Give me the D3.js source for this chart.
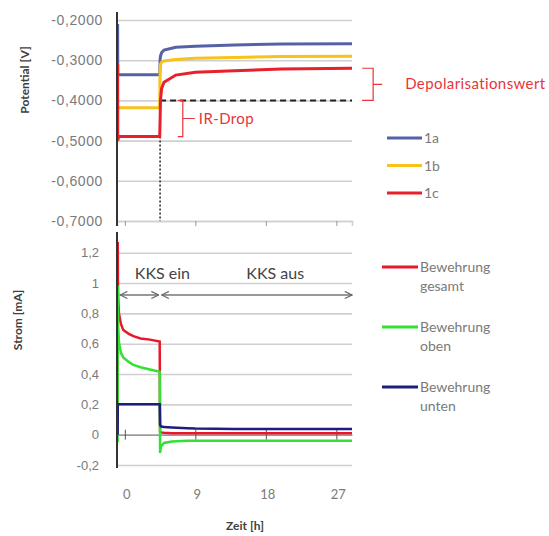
<!DOCTYPE html>
<html>
<head>
<meta charset="utf-8">
<script src="https://cdn.jsdelivr.net/npm/d3@7"></script>
<style>
  body { margin: 0; background: #fff; }
  svg { font-family: Lato, "Open Sans", sans-serif; }
</style>
</head>
<body>
<svg id="chart" width="549" height="536"></svg>
<script>
// Potential chart (top), time in h
const timeTop = [-0.92, -0.9, -0.85, -0.8, 4.45, 4.5, 4.55, 4.7, 5.0, 6.5, 9, 14, 20, 29];
const pot1a = [-0.21, -0.336, -0.336, -0.336, -0.336, -0.30, -0.29, -0.281, -0.275, -0.268, -0.265, -0.262, -0.26, -0.259];
const pot1b = [-0.42, -0.418, -0.418, -0.418, -0.418, -0.32, -0.31, -0.305, -0.302, -0.298, -0.295, -0.293, -0.291, -0.29];
const pot1c = [-0.31, -0.50, -0.495, -0.49, -0.49, -0.45, -0.40, -0.37, -0.355, -0.337, -0.33, -0.326, -0.322, -0.32];
const potTicks = [-0.7, -0.6, -0.5, -0.4, -0.3, -0.2];
const potNames = ["1a", "1b", "1c"];

// Current chart (bottom)
const timeBot = [-0.92, -0.9, -0.88, -0.85, -0.75, -0.5, -0.2, 0.5, 1.1, 2, 3.2, 4.45, 4.5, 4.6, 5, 6, 8, 9, 14, 20, 29];
const curGesamt = [0, 1.27, 1.0, 0.9, 0.8, 0.73, 0.69, 0.665, 0.65, 0.635, 0.627, 0.615, 0.02, 0.015, 0.012, 0.01, 0.01, 0.01, 0.01, 0.01, 0.01];
const curOben = [-0.05, 0.98, 0.85, 0.72, 0.61, 0.54, 0.51, 0.48, 0.46, 0.445, 0.43, 0.415, -0.12, -0.08, -0.055, -0.045, -0.04, -0.04, -0.04, -0.04, -0.04];
const curUnten = [0, 0.2, 0.2, 0.2, 0.2, 0.2, 0.2, 0.2, 0.2, 0.2, 0.2, 0.2, 0.065, 0.055, 0.05, 0.047, 0.042, 0.04, 0.038, 0.038, 0.038];
const curTicks = [-0.2, 0, 0.2, 0.4, 0.6, 0.8, 1, 1.2];
const curNames = [["Bewehrung", "gesamt"], ["Bewehrung", "oben"], ["Bewehrung", "unten"]];

const timeTicks = [0, 9, 18, 27];
const tSwitch = 4.5;

const svg = d3.select("#chart");
const de = d3.formatLocale({ decimal: ",", thousands: ".", grouping: [3], currency: ["", "€"], minus: "-" });
const fmtPot = de.format(".4f");
const fmtCur = de.format("~g");

const left = 117, right = 352;
const x = d3.scaleLinear().domain([-1, 29]).range([left, right]);
const yTop = d3.scaleLinear().domain([-0.7, -0.2]).range([221, 20]);
const yBot = d3.scaleLinear().domain([-0.2, 1.35]).range([465, 230]);

const gridColor = "#d0d0d0";
const labelColor = "#7a7a7a";

// ---------- top chart ----------
const gT = svg.append("g");
gT.append("g").attr("transform", `translate(${left},0)`)
  .call(d3.axisLeft(yTop).tickValues(potTicks).tickSize(-(right - left)).tickPadding(14).tickFormat(fmtPot))
  .call(a => a.select(".domain").remove())
  .call(a => a.selectAll("line").attr("stroke", gridColor).attr("stroke-width", 1.6))
  .call(a => a.selectAll("text").attr("fill", labelColor).style("font-size", "14px").style("letter-spacing", "0.6px"));

// x ticks on the bottom line
gT.append("g").attr("transform", `translate(0,${yTop(-0.7)})`)
  .call(d3.axisBottom(x).tickValues(timeTicks).tickSize(5).tickFormat(""))
  .call(a => a.select(".domain").attr("stroke", gridColor).attr("stroke-width", 1.6))
  .call(a => a.selectAll("line").attr("stroke", "#999"));

// dashed -0.4 reference and dotted switch line
gT.append("line")
  .attr("x1", x(tSwitch)).attr("x2", x(29)).attr("y1", yTop(-0.4)).attr("y2", yTop(-0.4))
  .attr("stroke", "#222").attr("stroke-width", 2).attr("stroke-dasharray", "6,4");
gT.append("line")
  .attr("x1", x(tSwitch)).attr("x2", x(tSwitch)).attr("y1", yTop(-0.49)).attr("y2", yTop(-0.7))
  .attr("stroke", "#222").attr("stroke-width", 1.5).attr("stroke-dasharray", "2,2");

const potColors = ["#5563a6", "#f7c21a", "#e8202a"];
const potSeries = [pot1a, pot1b, pot1c];
const lineTop = vals => d3.line().x((d, i) => x(timeTop[i])).y(d => yTop(d))(vals);
potSeries.forEach((s, i) => {
  gT.append("path").attr("d", lineTop(s)).attr("fill", "none")
    .attr("stroke", potColors[i]).attr("stroke-width", 3);
});

gT.append("line").attr("x1", left).attr("x2", left).attr("y1", 12).attr("y2", 226)
  .attr("stroke", "#333").attr("stroke-width", 2);

// annotations
const red = "#e8343a";
function bracket(xPos, v1, v2, armLen, dashLen) {
  const y1 = yTop(v1), y2 = yTop(v2), ym = (y1 + y2) / 2;
  gT.append("path")
    .attr("d", `M${xPos - armLen},${y1}H${xPos}V${y2}H${xPos - armLen}M${xPos},${ym}H${xPos + dashLen}`)
    .attr("fill", "none").attr("stroke", red).attr("stroke-width", 1.2);
  return ym;
}
const irY = bracket(x(7.4), -0.4, -0.49, 5, 12);
gT.append("text").attr("x", x(7.4) + 16).attr("y", irY + 6).attr("fill", red)
  .style("font-size", "15px").style("letter-spacing", "0.4px").text("IR-Drop");
const depY = bracket(x(31.7), -0.32, -0.4, 11, 9);
gT.append("text").attr("x", x(31.7) + 32).attr("y", depY + 5).attr("fill", red)
  .style("font-size", "15px").style("letter-spacing", "0.4px").text("Depolarisationswert");

// top legend
potNames.forEach((n, i) => {
  const ly = 138 + i * 27.5;
  gT.append("line").attr("x1", 387).attr("x2", 422).attr("y1", ly).attr("y2", ly)
    .attr("stroke", potColors[i]).attr("stroke-width", 3);
  gT.append("text").attr("x", 424).attr("y", ly + 5).attr("fill", labelColor)
    .style("font-size", "14px").text(n);
});

gT.append("text").attr("transform", "translate(29,80) rotate(-90)")
  .attr("text-anchor", "middle").attr("fill", "#404040").style("font-weight", "bold")
  .style("font-size", "12px").text("Potential [V]");

// ---------- bottom chart ----------
const gB = svg.append("g");
gB.append("g").attr("transform", `translate(${left},0)`)
  .call(d3.axisLeft(yBot).tickValues(curTicks).tickSize(-(right - left)).tickPadding(18).tickFormat(fmtCur))
  .call(a => a.select(".domain").remove())
  .call(a => a.selectAll("line").attr("stroke", gridColor).attr("stroke-width", 1.6))
  .call(a => a.selectAll("text").attr("fill", labelColor).style("font-size", "13px"));

// zero axis with crossing ticks
gB.append("g").attr("transform", `translate(0,${yBot(0)})`)
  .call(d3.axisBottom(x).tickValues(timeTicks).tickSizeInner(5).tickSizeOuter(0).tickFormat(""))
  .call(a => a.select(".domain").attr("stroke", "#888").attr("stroke-width", 1.2))
  .call(a => a.selectAll("line").attr("stroke", "#555").attr("y1", -5));

// time labels
gB.selectAll("text.xl").data(timeTicks).enter().append("text")
  .attr("class", "xl").attr("x", d => x(d) + 2).attr("y", 499)
  .attr("text-anchor", "middle").attr("fill", labelColor).style("font-size", "13px")
  .text(d => d);

const curColors = ["#e8182c", "#33e033", "#1c1f80"];
const curSeries = [curGesamt, curOben, curUnten];
const lineBot = vals => d3.line().x((d, i) => x(timeBot[i])).y(d => yBot(d))(vals);
curSeries.forEach((s, i) => {
  gB.append("path").attr("d", lineBot(s)).attr("fill", "none")
    .attr("stroke", curColors[i]).attr("stroke-width", 2.5);
});

gB.append("line").attr("x1", left).attr("x2", left).attr("y1", 232).attr("y2", 468)
  .attr("stroke", "#333").attr("stroke-width", 2);

// KKS arrows
const defs = svg.append("defs");
["s", "e"].forEach(k => {
  defs.append("marker").attr("id", "arr-" + k).attr("viewBox", "0 0 10 10")
    .attr("refX", k === "e" ? 9 : 1).attr("refY", 5).attr("markerWidth", 9).attr("markerHeight", 9)
    .attr("markerUnits", "userSpaceOnUse").attr("orient", "auto")
    .append("path").attr("d", k === "e" ? "M1,1L9,5L1,9" : "M9,1L1,5L9,9")
    .attr("fill", "none").attr("stroke", "#666").attr("stroke-width", 1.3);
});
const arrY = 295;
[[-0.6, 4.3], [4.7, 29]].forEach(([a, b]) => {
  gB.append("line").attr("x1", x(a)).attr("x2", x(b)).attr("y1", arrY).attr("y2", arrY)
    .attr("stroke", "#777").attr("stroke-width", 1.3)
    .attr("marker-start", "url(#arr-s)").attr("marker-end", "url(#arr-e)");
});
gB.append("text").attr("x", x(4.8)).attr("y", 279).attr("text-anchor", "middle")
  .attr("fill", "#444").style("font-size", "16px").text("KKS ein");
gB.append("text").attr("x", x(19.2)).attr("y", 279).attr("text-anchor", "middle")
  .attr("fill", "#444").style("font-size", "16px").text("KKS aus");

// bottom legend
curNames.forEach((n, i) => {
  const ly = 267 + i * 60;
  gB.append("line").attr("x1", 382).attr("x2", 418).attr("y1", ly).attr("y2", ly)
    .attr("stroke", curColors[i]).attr("stroke-width", 3);
  const t = gB.append("text").attr("x", 420).attr("y", ly + 5).attr("fill", labelColor)
    .style("font-size", "14px");
  t.append("tspan").attr("x", 420).text(n[0]);
  t.append("tspan").attr("x", 420).attr("dy", 19).text(n[1]);
});

gB.append("text").attr("transform", "translate(22,320) rotate(-90)")
  .attr("text-anchor", "middle").attr("fill", "#404040").style("font-weight", "bold")
  .style("font-size", "12px").text("Strom [mA]");
gB.append("text").attr("x", 245).attr("y", 530).attr("text-anchor", "middle")
  .attr("fill", "#404040").style("font-weight", "bold").style("font-size", "12px").text("Zeit [h]");
</script>
</body>
</html>
